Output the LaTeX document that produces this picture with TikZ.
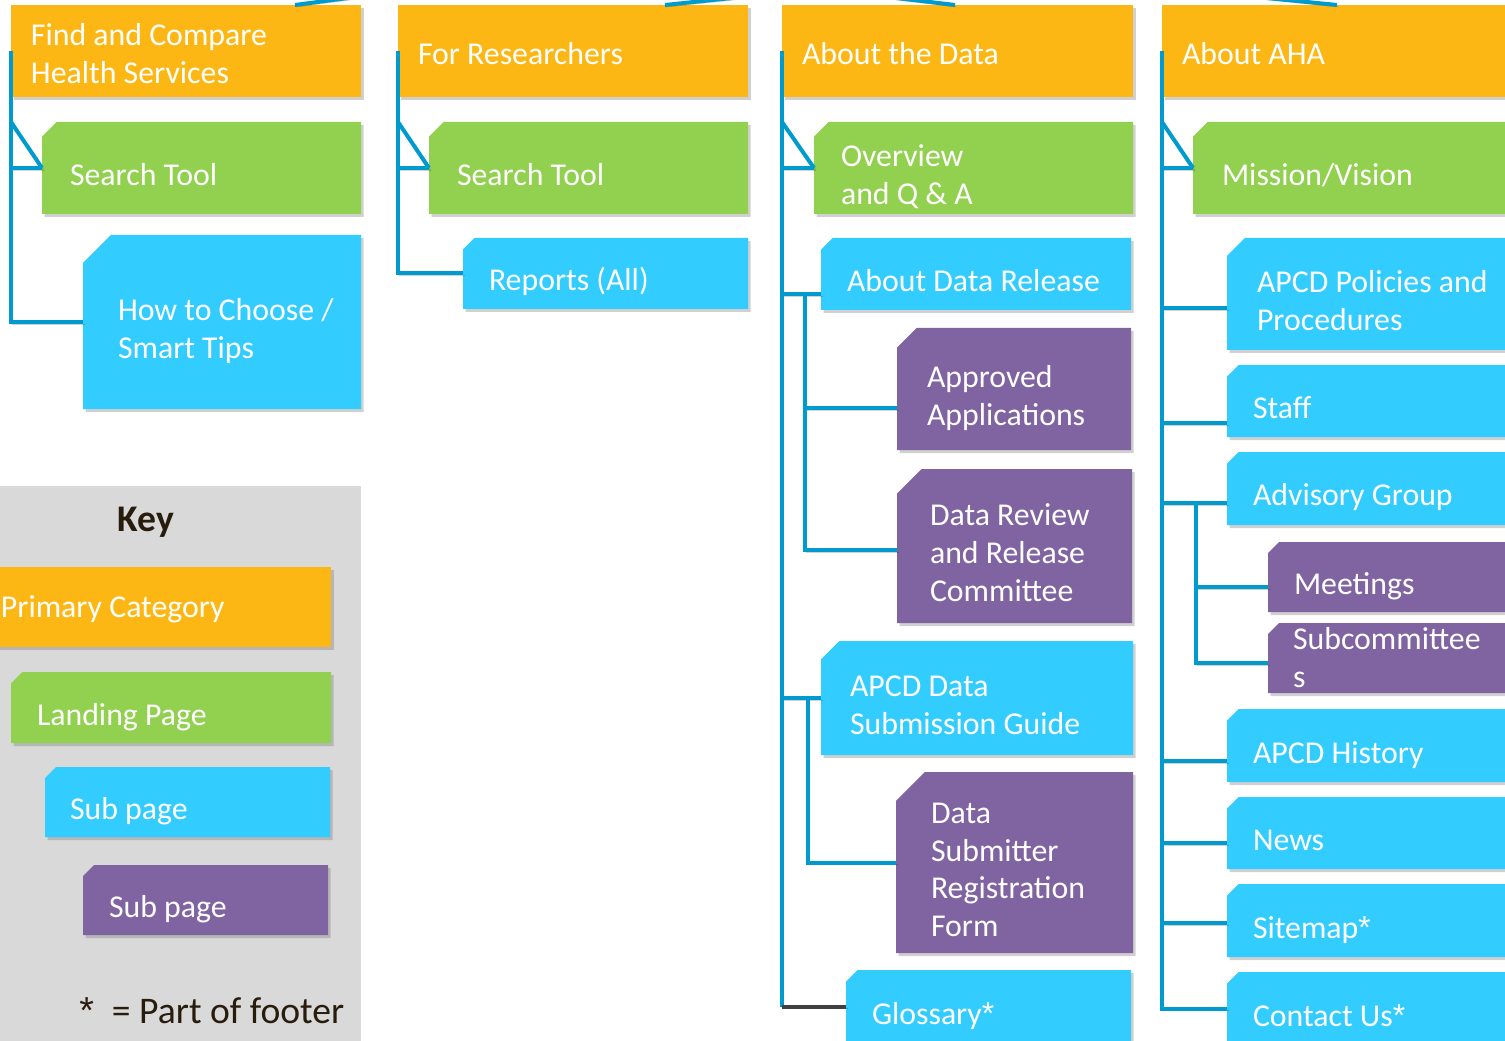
\documentclass[tikz,border=0pt]{standalone}
\usepackage{fontspec}
\setmainfont{Carlito}
\newfontfamily\starfont{Liberation Sans}
\usetikzlibrary{shadows}
\definecolor{catorange}{RGB}{253,183,21}
\definecolor{landgreen}{RGB}{146,208,80}
\definecolor{subblue}{RGB}{51,204,255}
\definecolor{subpurple}{RGB}{128,100,162}
\definecolor{linkblue}{RGB}{0,155,206}
\definecolor{footgray}{RGB}{64,64,64}
\definecolor{keygray}{RGB}{217,217,217}
\definecolor{keyink}{RGB}{40,28,12}

\newlength{\upx}
\setlength{\upx}{0.2mm}
\newcommand{\boxfont}{\fontsize{18.1pt}{21.6pt}\selectfont}
\newcommand{\keyfont}{\fontsize{21.4pt}{25pt}\selectfont}
\newcommand{\nodelift}{0.85em}
\newcommand{\nodedrop}{0pt}
\newcommand{\fstar}{{\starfont *}}

% rectangle with the top left corner snipped off (16% of the shorter side)
\makeatletter
\pgfdeclareshape{snipped rectangle}{%
  \inheritsavedanchors[from=rectangle]%
  \inheritanchorborder[from=rectangle]%
  \inheritanchor[from=rectangle]{center}%
  \inheritanchor[from=rectangle]{north}%
  \inheritanchor[from=rectangle]{south}%
  \inheritanchor[from=rectangle]{east}%
  \inheritanchor[from=rectangle]{west}%
  \inheritanchor[from=rectangle]{north east}%
  \inheritanchor[from=rectangle]{north west}%
  \inheritanchor[from=rectangle]{south east}%
  \inheritanchor[from=rectangle]{south west}%
  \backgroundpath{%
    \southwest \pgf@xa=\pgf@x \pgf@ya=\pgf@y
    \northeast \pgf@xb=\pgf@x \pgf@yb=\pgf@y
    \pgf@xc=\pgf@xb \advance\pgf@xc by-\pgf@xa
    \pgf@yc=\pgf@yb \advance\pgf@yc by-\pgf@ya
    \ifdim\pgf@xc<\pgf@yc \pgf@yc=\pgf@xc \fi
    \pgf@yc=0.16\pgf@yc
    \pgf@xc=\pgf@xa \advance\pgf@xc by\pgf@yc
    \advance\pgf@yc by-\pgf@yb \pgf@yc=-\pgf@yc
    \pgfpathmoveto{\pgfqpoint{\pgf@xa}{\pgf@ya}}%
    \pgfpathlineto{\pgfqpoint{\pgf@xb}{\pgf@ya}}%
    \pgfpathlineto{\pgfqpoint{\pgf@xb}{\pgf@yb}}%
    \pgfpathlineto{\pgfqpoint{\pgf@xc}{\pgf@yb}}%
    \pgfpathlineto{\pgfqpoint{\pgf@xa}{\pgf@yc}}%
    \pgfpathclose
  }%
}
\makeatother

\begin{document}
\begin{tikzpicture}[x=0.2mm, y=-0.2mm,
  page/.style={anchor=north west, outer sep=0pt, inner xsep=0pt, inner ysep=0pt, align=left, text=white, font=\boxfont,
    drop shadow={shadow xshift=0.5mm, shadow yshift=-0.6mm, fill=black!60, opacity=0.3}},
  category/.style={page, rectangle, fill=catorange},
  landing/.style={page, snipped rectangle, fill=landgreen, /utils/exec={\def\nodelift{1.35em}\def\nodedrop{0.25em}}},
  subpage/.style={landing, fill=subblue},
  subsub/.style={landing, fill=subpurple},
  dims/.style n args={3}{text width=#1*\upx, minimum height=#2*\upx,
    execute at begin node={\leftskip=#3\upx\relax\spaceskip=0pt\relax\xspaceskip=0pt\relax\rule{0pt}{\nodelift}},
    execute at end node={\rule[-\nodedrop]{0pt}{\nodedrop}}},
  branch/.style={draw=linkblue, line width=0.8mm,
    preaction={draw=black, opacity=0.18, transform canvas={shift={(0.3mm,-0.4mm)}}}},
  keytext/.style={font=\keyfont, text=keyink, inner sep=0pt}
]
  \path[use as bounding box] (0,0) rectangle (1505,1041);
  \clip (0,0) rectangle (1505,1041);
  \fill[white] (0,0) rectangle (1505,1041);

  % Key panel
  \fill[keygray] (0,486) rectangle (361,1045);
  \node[keytext, font=\keyfont\bfseries, anchor=base] (keytitle) at (146,531) {Key};
  \node[category, dims={351}{80}{21}] (keycat) at (-20,567) {Primary Category};
  \node[landing, dims={320}{71}{26}] (keyland) at (11,672) {Landing Page};
  \node[subpage, dims={285}{70}{25}] (keysub) at (45,767) {Sub page};
  \node[subsub, dims={245}{70}{26}] (keysubsub) at (83,865) {Sub page};
  \node[keytext, anchor=base west] (footer) at (79,1023) {\fstar\hspace{3.6mm}= Part of footer};

  % Find and Compare
  \node[category, dims={350}{92}{20}] (fc) at (11,5) {Find and Compare\\Health Services};
  \node[landing, dims={319}{92}{28}] (fcsearch) at (42,122) {Search Tool};
  \node[subpage, dims={278}{174}{35}] (choose) at (83,235) {How to Choose /\\Smart Tips};

  % For Researchers
  \node[category, dims={350}{92}{20}] (fr) at (398,5) {For Researchers};
  \node[landing, dims={319}{92}{28}] (frsearch) at (429,122) {Search Tool};
  \node[subpage, dims={285}{71}{26}] (reports) at (463,238) {Reports (All)};

  % About the Data
  \node[category, dims={351}{92}{20}] (ad) at (782,5) {About the Data};
  \node[landing, dims={319}{92}{27}] (overview) at (814,122) {Overview\\and Q \& A};
  \node[subpage, dims={310}{72}{26}] (release) at (821,238) {About Data Release};
  \node[subsub, dims={234}{122}{30}] (approved) at (897,328) {Approved\\Applications};
  \node[subsub, dims={235}{154}{33}] (review) at (897,469) {Data Review\\and Release\\Committee};
  \node[subpage, dims={312}{114}{29}] (guide) at (821,641) {APCD Data\\Submission Guide};
  \node[subsub, dims={237}{181}{35}] (regform) at (896,772) {Data\\Submitter\\Registration\\Form};
  \node[subpage, dims={285}{73}{26}] (glossary) at (846,970) {Glossary\fstar};

  % About AHA
  \node[category, dims={360}{92}{20}] (aha) at (1162,5) {About AHA};
  \node[landing, dims={330}{92}{29}] (mission) at (1193,122) {Mission/Vision};
  \node[subpage, dims={300}{112}{30}] (policies) at (1227,238) {APCD Policies and\\Procedures};
  \node[subpage, dims={300}{72}{26}] (staff) at (1227,365) {Staff};
  \node[subpage, dims={300}{73}{26}] (advisory) at (1227,452) {Advisory Group};
  \node[subsub, dims={260}{70}{26}] (meetings) at (1268,542) {Meetings};
  \node[subsub, dims={260}{70}{25}, /utils/exec={\def\nodelift{0pt}\def\nodedrop{0pt}}] (subcomm) at (1268,623) {Subcommittee\\s};
  \node[subpage, dims={300}{73}{26}] (history) at (1227,709) {APCD History};
  \node[subpage, dims={300}{72}{26}] (news) at (1227,797) {News};
  \node[subpage, dims={300}{73}{26}] (sitemap) at (1227,884) {Sitemap\fstar};
  \node[subpage, dims={300}{73}{26}] (contact) at (1227,972) {Contact Us\fstar};

  % stubs up to the home page
  \coordinate (up1) at (409,-10);
  \coordinate (up2) at (809,-10);
  \coordinate (up3) at (829,-10);
  \coordinate (up4) at (1187,-10);
  \draw[branch] (fc.north -| 295,0) -- (up1);
  \draw[branch] (fr.north -| 665,0) -- (up2);
  \draw[branch] (ad.north -| 955,0) -- (up3);
  \draw[branch] (aha.north -| 1337,0) -- (up4);

  % Find and Compare links
  \draw[branch] (fc.west) |- (fcsearch.west);
  \draw[branch] (fc.west |- fcsearch.north) -- (fcsearch.west);
  \draw[branch] (fc.west) |- (choose.west);

  % For Researchers links
  \draw[branch] (fr.west) |- (frsearch.west);
  \draw[branch] (fr.west |- frsearch.north) -- (frsearch.west);
  \draw[branch] (fr.west) |- (reports.west);

  % About the Data links
  \draw[branch] (ad.west) |- (overview.west);
  \draw[branch] (ad.west |- overview.north) -- (overview.west);
  \draw[branch] (ad.west) |- (release.west |- 0,294);
  \draw[branch] (ad.west) |- (guide.west);
  \draw[branch] (ad.west) -- (ad.west |- glossary.west);
  \draw[branch, draw=footgray] (ad.west |- glossary.west) -- (glossary.west);
  \coordinate (releasefork) at (805,294);
  \draw[branch] (releasefork) |- (approved.west |- 0,408);
  \draw[branch] (releasefork) |- (review.west |- 0,550);
  \coordinate (guidefork) at (808,698);
  \draw[branch] (guidefork) |- (regform.west);

  % About AHA links
  \draw[branch] (aha.west) |- (mission.west);
  \draw[branch] (aha.west |- mission.north) -- (mission.west);
  \draw[branch] (aha.west) |- (policies.west |- 0,308);
  \draw[branch] (aha.west) |- (staff.west |- 0,423);
  \draw[branch] (aha.west) |- (advisory.west |- 0,503);
  \draw[branch] (aha.west) |- (history.west |- 0,761);
  \draw[branch] (aha.west) |- (news.west |- 0,843);
  \draw[branch] (aha.west) |- (sitemap.west |- 0,923);
  \draw[branch] (aha.west) |- (contact.west);
  \coordinate (advisoryfork) at (1196,503);
  \draw[branch] (advisoryfork) |- (meetings.west |- 0,587);
  \draw[branch] (advisoryfork) |- (subcomm.west |- 0,663);
\end{tikzpicture}
\end{document}
